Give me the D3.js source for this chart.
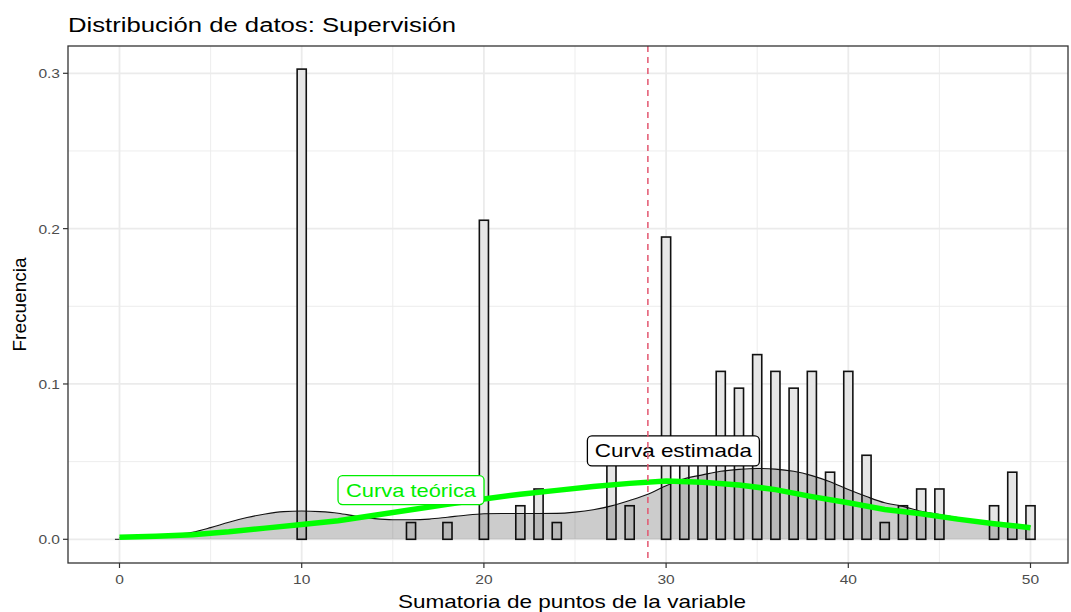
<!DOCTYPE html>
<html>
<head>
<meta charset="utf-8">
<script src="https://cdn.jsdelivr.net/npm/d3@7"></script>
<style>
  html, body { margin: 0; padding: 0; background: #fff; }
  svg { display: block; font-family: "Liberation Sans", Arial, sans-serif; }
</style>
</head>
<body>
<svg id="chart" width="1071" height="612"></svg>
<script>
// --- data ------------------------------------------------------------------
// histogram (binwidth 0.5, one bar per integer score), density scale
const barX = [10, 16, 18, 20, 22, 23, 24, 27, 28, 30, 31, 32, 33, 34, 35, 36, 37, 38, 39, 40, 41, 42, 43, 44, 45, 48, 49, 50];
const barY = [0.3027, 0.0108, 0.0108, 0.2054, 0.0216, 0.0324, 0.0108, 0.0541, 0.0216, 0.1946, 0.0541, 0.0541,
              0.1081, 0.0973, 0.1189, 0.1081, 0.0973, 0.1081, 0.0432, 0.1081, 0.0541, 0.0108, 0.0216, 0.0324,
              0.0324, 0.0216, 0.0432, 0.0216];

// estimated density ("Curva estimada")
const densX = [0, 1, 2, 3, 4, 5, 6, 7, 8, 9, 10, 11, 12, 13, 14, 15, 16, 17, 18, 19, 20, 21, 22, 23, 24, 25,
               26, 27, 28, 29, 30, 31, 32, 33, 34, 35, 36, 37, 38, 39, 40, 41, 42, 43, 44, 45, 46, 47, 48, 49, 50];
const densY = [0.0010, 0.0012, 0.0018, 0.0030, 0.0045, 0.0075, 0.0110, 0.0140, 0.0163, 0.0178, 0.0182, 0.0178,
               0.0168, 0.0148, 0.0133, 0.0126, 0.0126, 0.0130, 0.0142, 0.0155, 0.0164, 0.0166, 0.0166, 0.0166,
               0.0167, 0.0175, 0.0190, 0.0215, 0.0250, 0.0290, 0.0345, 0.0390, 0.0415, 0.0438, 0.0450, 0.0456,
               0.0452, 0.0438, 0.0410, 0.0370, 0.0320, 0.0275, 0.0235, 0.0212, 0.0180, 0.0160, 0.0140, 0.0120,
               0.0110, 0.0095, 0.0085];

// theoretical normal curve ("Curva teórica")
const normX = [0, 2, 4, 6, 8, 10, 12, 14, 16, 18, 20, 22, 24, 26, 28, 30, 32, 34, 36, 38, 40, 42, 44, 46, 48, 50];
const normY = [0.0013, 0.0020, 0.0030, 0.0048, 0.0072, 0.0095, 0.0120, 0.0155, 0.0190, 0.0225, 0.0260, 0.0290,
               0.0315, 0.0340, 0.0360, 0.0375, 0.0368, 0.0350, 0.0320, 0.0275, 0.0235, 0.0192, 0.0165, 0.0130,
               0.0100, 0.0075];

const meanValue = 29.0;

const xTicks = [0, 10, 20, 30, 40, 50];
const xMinor = [5, 15, 25, 35, 45];
const yTicks = [0, 0.1, 0.2, 0.3];
const yMinor = [0.05, 0.15, 0.25];

const labelTeorica = { x: 16.0, y: 0.0317, text: 'Curva teórica' };
const labelEstimada = { x: 30.4, y: 0.0569, text: 'Curva estimada' };

// --- layout ------------------------------------------------------------------
const panel = { left: 68, right: 1068, top: 46, bottom: 563 };
const x = d3.scaleLinear().domain([0, 50]).range([119.5, 1030.5]);
const y = d3.scaleLinear().domain([0, 0.3]).range([539.3, 73.3]);
const binW = 0.5;

const svg = d3.select('#chart');

// stretch text horizontally to the measured width
function fit(sel, width) {
  sel.attr('textLength', width).attr('lengthAdjust', 'spacingAndGlyphs');
}
function stretch(sel, sx) {
  sel.each(function () {
    const w = this.getComputedTextLength();
    d3.select(this).attr('textLength', w * sx).attr('lengthAdjust', 'spacingAndGlyphs');
  });
}

// panel background + grid
svg.append('rect')
  .attr('x', panel.left).attr('y', panel.top)
  .attr('width', panel.right - panel.left).attr('height', panel.bottom - panel.top)
  .attr('fill', '#fff');

const grid = svg.append('g').attr('stroke', '#ebebeb');
grid.selectAll('.vminor').data(xMinor).join('line')
  .attr('x1', d => x(d)).attr('x2', d => x(d))
  .attr('y1', panel.top).attr('y2', panel.bottom).attr('stroke-width', 0.9);
grid.selectAll('.hminor').data(yMinor).join('line')
  .attr('y1', d => y(d)).attr('y2', d => y(d))
  .attr('x1', panel.left).attr('x2', panel.right).attr('stroke-width', 0.9);
grid.selectAll('.vmajor').data(xTicks).join('line')
  .attr('x1', d => x(d)).attr('x2', d => x(d))
  .attr('y1', panel.top).attr('y2', panel.bottom).attr('stroke-width', 1.8);
grid.selectAll('.hmajor').data(yTicks).join('line')
  .attr('y1', d => y(d)).attr('y2', d => y(d))
  .attr('x1', panel.left).attr('x2', panel.right).attr('stroke-width', 1.8);

// histogram bars
svg.append('g').selectAll('rect')
  .data(barX.map((v, i) => ({ x: v, y: barY[i] })))
  .join('rect')
  .attr('x', d => x(d.x - binW / 2))
  .attr('width', d => x(d.x + binW / 2) - x(d.x - binW / 2))
  .attr('y', d => y(d.y))
  .attr('height', d => y(0) - y(d.y))
  .attr('fill', '#e6e6e6')
  .attr('stroke', '#111')
  .attr('stroke-width', 1.6);

// density area
const dens = densX.map((v, i) => ({ x: v, y: densY[i] }));
svg.append('path')
  .datum(dens)
  .attr('d', d3.area().x(d => x(d.x)).y0(y(0)).y1(d => y(d.y)).curve(d3.curveMonotoneX))
  .attr('fill', 'rgba(0,0,0,0.2)');
svg.append('path')
  .datum(dens)
  .attr('d', d3.line().x(d => x(d.x)).y(d => y(d.y)).curve(d3.curveMonotoneX))
  .attr('fill', 'none')
  .attr('stroke', '#111')
  .attr('stroke-width', 1.1);
svg.append('line')
  .attr('x1', x(-0.25)).attr('x2', x(0))
  .attr('y1', y(0)).attr('y2', y(0))
  .attr('stroke', '#111').attr('stroke-width', 1);

// theoretical normal curve
svg.append('path')
  .datum(normX.map((v, i) => ({ x: v, y: normY[i] })))
  .attr('d', d3.line().x(d => x(d.x)).y(d => y(d.y)))
  .attr('fill', 'none')
  .attr('stroke', '#00ff00')
  .attr('stroke-width', 5.5);

// labels
function label(l, color, w, h) {
  const cx = x(l.x), cy = y(l.y);
  const g = svg.append('g');
  g.append('rect')
    .attr('x', cx - w / 2).attr('y', cy - h / 2)
    .attr('width', w).attr('height', h)
    .attr('rx', 4.5).attr('ry', 4.5)
    .attr('fill', '#fff')
    .attr('stroke', color)
    .attr('stroke-width', 1.3);
  const t = g.append('text')
    .attr('x', cx).attr('y', cy + 6.5)
    .attr('text-anchor', 'middle')
    .attr('font-size', 18.5)
    .attr('fill', color)
    .text(l.text);
  return t;
}
fit(label(labelTeorica, '#00ee00', 146, 29), 130);
fit(label(labelEstimada, '#000', 172, 30), 157);

// mean line
svg.append('line')
  .attr('x1', x(meanValue)).attr('x2', x(meanValue))
  .attr('y1', panel.top).attr('y2', panel.bottom)
  .attr('stroke', '#e3566f')
  .attr('stroke-width', 1.5)
  .attr('stroke-dasharray', '6,5');

// panel border
svg.append('rect')
  .attr('x', panel.left).attr('y', panel.top)
  .attr('width', panel.right - panel.left).attr('height', panel.bottom - panel.top)
  .attr('fill', 'none')
  .attr('stroke', '#333')
  .attr('stroke-width', 1.3);

// axes
const axisG = svg.append('g');
axisG.selectAll('.xt').data(xTicks).join('line')
  .attr('x1', d => x(d)).attr('x2', d => x(d))
  .attr('y1', panel.bottom).attr('y2', panel.bottom + 5)
  .attr('stroke', '#333').attr('stroke-width', 1.2);
axisG.selectAll('.yt').data(yTicks).join('line')
  .attr('y1', d => y(d)).attr('y2', d => y(d))
  .attr('x1', panel.left - 5).attr('x2', panel.left)
  .attr('stroke', '#333').attr('stroke-width', 1.2);

const xLab = axisG.selectAll('.xl').data(xTicks).join('text')
  .attr('x', d => x(d)).attr('y', 584)
  .attr('text-anchor', 'middle')
  .attr('font-size', 13.5)
  .attr('fill', '#4d4d4d')
  .text(d => d3.format('d')(d));
stretch(xLab, 1.15);

const yLab = axisG.selectAll('.yl').data(yTicks).join('text')
  .attr('x', 60).attr('y', d => y(d) + 5)
  .attr('text-anchor', 'end')
  .attr('font-size', 13.5)
  .attr('fill', '#4d4d4d')
  .text(d => d3.format('.1f')(d));
stretch(yLab, 1.15);

// titles
const title = svg.append('text')
  .attr('x', 68).attr('y', 32)
  .attr('font-size', 19.5)
  .attr('fill', '#000')
  .text('Distribución de datos: Supervisión');
fit(title, 388);

const xTitle = svg.append('text')
  .attr('x', (x(0) + x(50)) / 2 - 3).attr('y', 607.5)
  .attr('text-anchor', 'middle')
  .attr('font-size', 18.5)
  .attr('fill', '#000')
  .text('Sumatoria de puntos de la variable');
fit(xTitle, 348);

const yTitle = svg.append('text')
  .attr('transform', `translate(26,${(panel.top + panel.bottom) / 2}) rotate(-90)`)
  .attr('text-anchor', 'middle')
  .attr('font-size', 17.5)
  .attr('fill', '#000')
  .text('Frecuencia');
fit(yTitle, 94);
</script>
</body>
</html>
